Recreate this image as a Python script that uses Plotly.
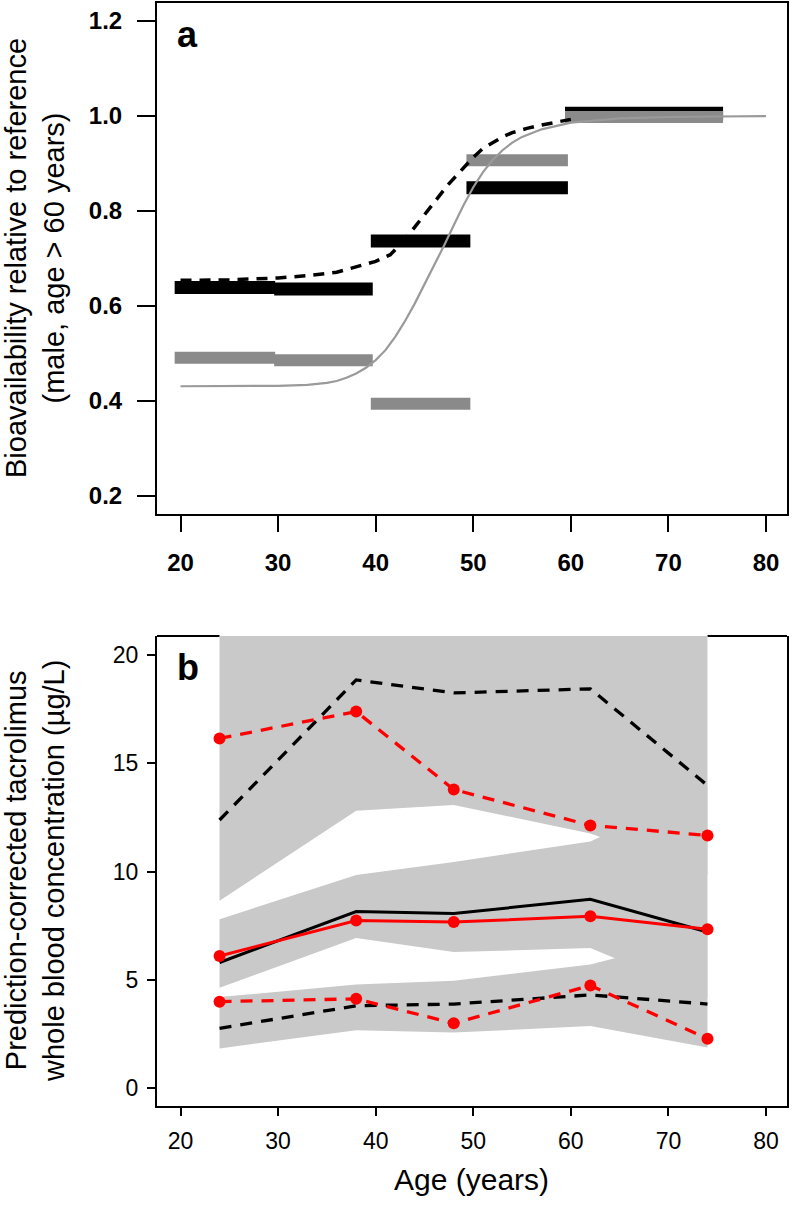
import plotly.graph_objects as go

# ---------------- Panel a data ----------------
bar_start = [19.4, 29.6, 39.5, 49.3, 59.4]
bar_end = [29.7, 39.7, 49.7, 59.7, 75.6]
black_bar = [0.639, 0.636, 0.737, 0.849, 1.006]
gray_bar = [0.491, 0.486, 0.394, 0.907, 0.998]

dash_age = [20, 25, 30, 33, 36, 38, 40, 41.5, 43, 44, 45, 45.9, 46.7, 47.4, 48.3, 49.1, 50, 51, 52,
            53, 54, 55.5, 57, 58.6, 60]
dash_val = [0.654, 0.655, 0.659, 0.664, 0.671, 0.683, 0.694, 0.708, 0.74, 0.766, 0.793, 0.817,
            0.837, 0.855, 0.875, 0.893, 0.913, 0.932, 0.945, 0.956, 0.965, 0.974, 0.981, 0.988,
            0.993]

gray_age = [20, 25, 30, 33, 35, 36, 37, 38, 39, 40, 41, 42, 43, 44, 45, 46, 47, 48, 49, 50, 51, 52,
            53, 54, 55, 57, 60, 65, 70, 75, 80]
gray_val = [0.431, 0.431, 0.432, 0.434, 0.438, 0.442, 0.449, 0.458, 0.47, 0.486, 0.507, 0.535,
            0.568, 0.605, 0.645, 0.686, 0.727, 0.77, 0.812, 0.85, 0.882, 0.908, 0.928, 0.944,
            0.956, 0.972, 0.986, 0.995, 0.998, 0.999, 1.0]

# ---------------- Panel b data ----------------
age_b = [24, 38, 48, 62, 74]
obs_median = [6.1, 7.74, 7.67, 7.93, 7.33]
obs_p95 = [16.15, 17.39, 13.79, 12.13, 11.67]
obs_p5 = [3.99, 4.12, 2.99, 4.74, 2.28]
pred_median = [5.8, 8.15, 8.06, 8.72, 7.21]
pred_p95 = [12.38, 18.85, 18.25, 18.44, 13.98]
pred_p5 = [2.76, 3.8, 3.88, 4.3, 3.88]

band_hi_lo = [8.65, 12.81, 13.07, 11.76, 9.84]
band_hi_hi = [21.5, 21.5, 21.5, 21.5, 21.5]
band_med_lo = [4.63, 6.93, 6.28, 6.47, 4.21]
band_med_hi = [7.8, 9.84, 10.44, 11.39, 13.9]
band_lo_lo = [1.83, 2.67, 2.56, 2.86, 1.87]
band_lo_hi = [4.2, 4.78, 4.96, 5.71, 7.1]

x_ticks = [20, 30, 40, 50, 60, 70, 80]
ya_ticks = [0.2, 0.4, 0.6, 0.8, 1.0, 1.2]
yb_ticks = [0, 5, 10, 15, 20]

X_RANGE = [17.59, 82.15]
YA_RANGE = [0.162, 1.238]
YB_RANGE = [-0.83, 20.88]

FONT = "Liberation Sans, Arial, Helvetica, sans-serif"
W, H = 792, 1207
BAR_BLACK = "#000000"
BAR_GRAY = "#8a8a8a"
CURVE_GRAY = "#9a9a9a"
SHADE = "#c9c9c9"
RED = "#ff0000"

fig = go.Figure()

# Panel a: thick horizontal segments
for s, e, v in zip(bar_start, bar_end, black_bar):
    fig.add_trace(go.Scatter(x=[s, e], y=[v, v], mode="lines",
                             line=dict(color=BAR_BLACK, width=13), xaxis="x", yaxis="y",
                             showlegend=False, hoverinfo="skip"))
for s, e, v in zip(bar_start, bar_end, gray_bar):
    fig.add_trace(go.Scatter(x=[s, e], y=[v, v], mode="lines",
                             line=dict(color=BAR_GRAY, width=12), xaxis="x", yaxis="y",
                             showlegend=False, hoverinfo="skip"))
fig.add_trace(go.Scatter(x=gray_age, y=gray_val, mode="lines",
                         line=dict(color=CURVE_GRAY, width=2.2),
                         xaxis="x", yaxis="y", showlegend=False, hoverinfo="skip"))
fig.add_trace(go.Scatter(x=dash_age, y=dash_val, mode="lines",
                         line=dict(color="#000000", width=3.5, dash="11px,8px"),
                         xaxis="x", yaxis="y", showlegend=False, hoverinfo="skip"))

# Panel b: shaded bands
def band(lo, hi):
    fig.add_trace(go.Scatter(x=age_b + age_b[::-1], y=hi + lo[::-1], mode="lines",
                             fill="toself", fillcolor=SHADE, line=dict(width=0, color=SHADE),
                             xaxis="x2", yaxis="y2", showlegend=False, hoverinfo="skip"))

band(band_hi_lo, band_hi_hi)
band(band_med_lo, band_med_hi)
band(band_lo_lo, band_lo_hi)

for vals in (pred_p95, pred_p5):
    fig.add_trace(go.Scatter(x=age_b, y=vals, mode="lines",
                             line=dict(color="#000000", width=3.3, dash="12px,9px"),
                             xaxis="x2", yaxis="y2", showlegend=False, hoverinfo="skip"))
fig.add_trace(go.Scatter(x=age_b, y=pred_median, mode="lines",
                         line=dict(color="#000000", width=3),
                         xaxis="x2", yaxis="y2", showlegend=False, hoverinfo="skip"))
for vals in (obs_p95, obs_p5):
    fig.add_trace(go.Scatter(x=age_b, y=vals, mode="lines+markers",
                             line=dict(color=RED, width=3.3, dash="12px,9px"),
                             marker=dict(color=RED, size=12),
                             xaxis="x2", yaxis="y2", showlegend=False, hoverinfo="skip"))
fig.add_trace(go.Scatter(x=age_b, y=obs_median, mode="lines+markers",
                         line=dict(color=RED, width=3),
                         marker=dict(color=RED, size=12),
                         xaxis="x2", yaxis="y2", showlegend=False, hoverinfo="skip"))

xdom = [157 / W, 787 / W]
common_x = dict(range=X_RANGE, tickmode="array", tickvals=x_ticks, ticks="outside",
                tickwidth=2, tickcolor="black", showgrid=False, zeroline=False,
                showline=True, linecolor="black", linewidth=2, domain=xdom)

fig.update_layout(
    width=W, height=H, margin=dict(l=0, r=0, t=0, b=0),
    paper_bgcolor="white", plot_bgcolor="white",
    font=dict(family=FONT, color="black"),
    xaxis=dict(common_x, anchor="y", ticklen=16, mirror=True,
               tickfont=dict(family=FONT, size=24, weight="bold"), ticklabelstandoff=10),
    yaxis=dict(range=YA_RANGE, tickmode="array", tickvals=ya_ticks, tickformat=".1f",
               ticks="outside", ticklen=18, tickwidth=2, tickcolor="black", showgrid=False,
               zeroline=False, showline=True, linecolor="black", linewidth=2, mirror=True,
               domain=[1 - 514 / H, 1 - 3 / H], anchor="x",
               tickfont=dict(family=FONT, size=24, weight="bold"), ticklabelstandoff=10),
    xaxis2=dict(common_x, anchor="y2", ticklen=8, mirror=False,
                tickfont=dict(family=FONT, size=23), ticklabelstandoff=5),
    yaxis2=dict(range=YB_RANGE, tickmode="array", tickvals=yb_ticks, ticks="outside",
                ticklen=8, tickwidth=2, tickcolor="black", showgrid=False, zeroline=False,
                showline=True, linecolor="black", linewidth=2, mirror=True,
                domain=[1 - 1106 / H, 1 - 636 / H], anchor="x2",
                tickfont=dict(family=FONT, size=23), ticklabelstandoff=4),
)

# top border of panel b (hidden where shading reaches the edge)
fig.add_shape(type="line", xref="x2", yref="y2 domain", x0=X_RANGE[0], x1=age_b[0], y0=1, y1=1,
              line=dict(color="black", width=2), layer="below")
fig.add_shape(type="line", xref="x2", yref="y2 domain", x0=age_b[-1], x1=X_RANGE[1], y0=1, y1=1,
              line=dict(color="black", width=2), layer="below")

annos = [
    dict(text="<b>a</b>", x=175 / W, y=1 - 35 / H, xanchor="left", yanchor="middle",
         font=dict(size=36, family=FONT)),
    dict(text="<b>b</b>", x=175 / W, y=1 - 667 / H, xanchor="left", yanchor="middle",
         font=dict(size=36, family=FONT)),
    dict(text="Bioavailability relative to reference<br>(male, age > 60 years)",
         x=35 / W, y=1 - 258 / H, xanchor="center", yanchor="middle", textangle=-90,
         font=dict(size=29, family=FONT)),
    dict(text="Prediction-corrected tacrolimus<br>whole blood concentration (µg/L)",
         x=35 / W, y=1 - 871 / H, xanchor="center", yanchor="middle", textangle=-90,
         font=dict(size=29, family=FONT)),
    dict(text="Age (years)", x=472 / W, y=1 - 1179 / H, xanchor="center", yanchor="middle",
         font=dict(size=30, family=FONT)),
]
for a in annos:
    fig.add_annotation(xref="paper", yref="paper", showarrow=False, **a)

fig.write_html("out.html", config={"displayModeBar": False},
               post_script="document.body.style.margin='0px';document.body.style.overflow='hidden';")
